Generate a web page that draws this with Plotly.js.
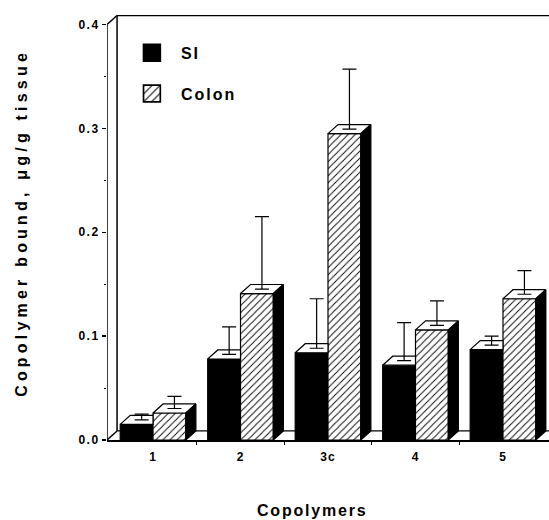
<!DOCTYPE html>
<html>
<head>
<meta charset="utf-8">
<script src="https://cdn.plot.ly/plotly-3.0.1.min.js"></script>
<style>
  html, body { margin: 0; padding: 0; background: #fff; }
  #chart { width: 549px; height: 520px; }
  .annotation[data-index="0"] .annotation-text { letter-spacing: 4.2px; }
  .annotation[data-index="1"] .annotation-text { letter-spacing: 1.8px; }
  .xtick text { letter-spacing: 1px; }
  .ytick text { letter-spacing: 1.5px; }
  .legendtext { letter-spacing: 2px; }
</style>
</head>
<body>
<div id="chart"></div>
<script>
// ---- data ----
const categories = ["1", "2", "3c", "4", "5"];
const siValues = [0.015, 0.078, 0.084, 0.072, 0.087];
const siErrors = [0.010, 0.031, 0.052, 0.041, 0.013];
const colonValues = [0.026, 0.141, 0.295, 0.106, 0.136];
const colonErrors = [0.016, 0.074, 0.062, 0.028, 0.027];
const yTickVals = [0, 0.1, 0.2, 0.3, 0.4];
const yTickText = ["0.0", "0.1", "0.2", "0.3", "0.4"];
const seriesNames = ["SI", "Colon"];

// ---- styling constants ----
const BW = 0.375;          // bar width (category units)
const DX = 0.115;          // 3D depth, x (category units)
const DY = 0.0087;         // 3D depth, y (data units)
const XR = [-0.526, 4.526];
const YR = [0, 0.4092];
const xIdx = categories.map((_, i) => i);

function topFaces(values, offset, full) {
  const xs = [], ys = [];
  values.forEach((v, i) => {
    const x0 = i + offset, x1 = x0 + BW;
    const xr = full ? x1 + DX : x1;
    xs.push(x0, x0 + DX, xr, x1, x0, null);
    ys.push(v, v + DY, v + DY, v, v, null);
  });
  return {xs, ys};
}
function sideFaces(values, offset) {
  const xs = [], ys = [];
  values.forEach((v, i) => {
    const x1 = i + offset + BW;
    xs.push(x1, x1, x1 + DX, x1 + DX, x1, null);
    ys.push(0, v, v + DY, DY, 0, null);
  });
  return {xs, ys};
}

const siTop = topFaces(siValues, -BW, false);
const coTop = topFaces(colonValues, 0, true);
const coSide = sideFaces(colonValues, 0);

const boldFont = {family: "Liberation Sans, Arial, sans-serif", weight: "bold", color: "#000"};

const traces = [
  {
    type: "bar", name: seriesNames[0], x: xIdx, y: siValues,
    width: BW, offset: -BW, legendgroup: "a",
    marker: {color: "#000", line: {color: "#000", width: 1.2}},
    hoverinfo: "skip"
  },
  {
    type: "bar", name: seriesNames[1], x: xIdx, y: colonValues,
    width: BW, offset: 0, legendgroup: "b",
    marker: {color: "#fff", line: {color: "#000", width: 1.2},
      pattern: {shape: "/", size: 5, solidity: 0.18, fgcolor: "#000", bgcolor: "#fff"}},
    hoverinfo: "skip"
  },
  {
    type: "scatter", mode: "lines", x: siTop.xs, y: siTop.ys, fill: "toself",
    fillcolor: "#fff", line: {color: "#000", width: 1.2}, showlegend: false, hoverinfo: "skip"
  },
  {
    type: "scatter", mode: "lines", x: coTop.xs, y: coTop.ys, fill: "toself",
    fillcolor: "#fff", line: {color: "#000", width: 1.2}, showlegend: false, hoverinfo: "skip"
  },
  {
    type: "scatter", mode: "lines", x: coSide.xs, y: coSide.ys, fill: "toself",
    fillcolor: "#000", line: {color: "#000", width: 1.2}, showlegend: false, hoverinfo: "skip"
  },
  {
    type: "scatter", mode: "markers",
    x: xIdx.map(i => i - BW / 2 + DX / 2),
    y: siValues.map(v => v + DY / 2),
    marker: {size: 1, opacity: 0},
    error_y: {type: "data", symmetric: false, array: siErrors.map(e => e - DY / 2),
      arrayminus: siErrors.map(() => 0), color: "#000", thickness: 1.2, width: 7},
    showlegend: false, hoverinfo: "skip"
  },
  {
    type: "scatter", mode: "markers",
    x: xIdx.map(i => i + BW / 2 + DX / 2),
    y: colonValues.map(v => v + DY / 2),
    marker: {size: 1, opacity: 0},
    error_y: {type: "data", symmetric: false, array: colonErrors.map(e => e - DY / 2),
      arrayminus: colonErrors.map(() => 0), color: "#000", thickness: 1.2, width: 7},
    showlegend: false, hoverinfo: "skip"
  }
];

const lineStyle = {color: "#000", width: 1.5};
const shapes = [
  {type: "line", xref: "x", yref: "y", x0: XR[0], y0: 0, x1: XR[0], y1: 0.4, line: lineStyle},
  {type: "line", xref: "x", yref: "y", x0: XR[0], y0: 0.4, x1: XR[0] + DX, y1: 0.4 + DY, line: lineStyle},
  {type: "line", xref: "x", yref: "y", x0: XR[0] + DX, y0: 0.4 + DY, x1: XR[1], y1: 0.4 + DY, line: lineStyle},
  {type: "line", xref: "x", yref: "y", x0: XR[0] + DX, y0: DY, x1: XR[0] + DX, y1: 0.4 + DY, line: lineStyle, layer: "below"},
  {type: "line", xref: "x", yref: "y", x0: XR[0], y0: 0, x1: XR[0] + DX, y1: DY, line: lineStyle},
  {type: "line", xref: "x", yref: "y", x0: XR[0] + DX, y0: DY, x1: XR[1], y1: DY, line: {color: "#000", width: 1.2}, layer: "below"}
];

const layout = {
  width: 549, height: 520,
  margin: {l: 107, r: 0, t: 15, b: 80, pad: 0},
  paper_bgcolor: "#fff", plot_bgcolor: "#fff",
  barmode: "overlay",
  showlegend: true,
  legend: {
    x: 0.036, y: 0.951, xanchor: "left", yanchor: "top",
    font: Object.assign({size: 16}, boldFont),
    bgcolor: "rgba(0,0,0,0)", borderwidth: 0,
    itemwidth: 48, tracegroupgap: 17, traceorder: "grouped"
  },
  xaxis: {
    range: XR, tickmode: "array", tickvals: xIdx, ticktext: categories,
    ticks: "", showgrid: false, zeroline: false,
    showline: true, linecolor: "#000", linewidth: 1.5,
    tickfont: Object.assign({size: 12}, boldFont),
    ticklabelstandoff: 5,
    minor: {tickmode: "array", tickvals: [0.5, 1.5, 2.5, 3.5], ticks: "outside", ticklen: 3, tickwidth: 1.2, tickcolor: "#000", showgrid: false},
    fixedrange: true
  },
  yaxis: {
    range: YR, tickmode: "array", tickvals: yTickVals, ticktext: yTickText,
    ticks: "outside", ticklen: 4, tickwidth: 1.5, tickcolor: "#000",
    showgrid: false, zeroline: false, showline: false,
    tickfont: Object.assign({size: 12}, boldFont),
    minor: {tickmode: "linear", tick0: 0.05, dtick: 0.1, ticks: "outside", ticklen: 2, tickwidth: 1, tickcolor: "#000", showgrid: false},
    fixedrange: true
  },
  shapes: shapes,
  annotations: [
    {
      text: "Copolymer bound, μg/g tissue", xref: "paper", yref: "paper",
      x: -0.195, y: 0.51, xanchor: "center", yanchor: "middle", textangle: -90,
      showarrow: false, font: Object.assign({size: 16}, boldFont)
    },
    {
      text: "Copolymers", xref: "paper", yref: "paper",
      x: 0.464, y: -0.165, xanchor: "center", yanchor: "middle",
      showarrow: false, font: Object.assign({size: 16}, boldFont)
    }
  ]
};

Plotly.newPlot("chart", traces, layout, {displayModeBar: false, staticPlot: true}).then(gd => {
  // enlarge the legend swatches to match the reference's bigger squares
  gd.querySelectorAll(".legend .legendpoints path").forEach(p => {
    const t = p.getAttribute("transform") || "";
    p.setAttribute("transform", t + " scale(1.4)");
  });
});
</script>
</body>
</html>
